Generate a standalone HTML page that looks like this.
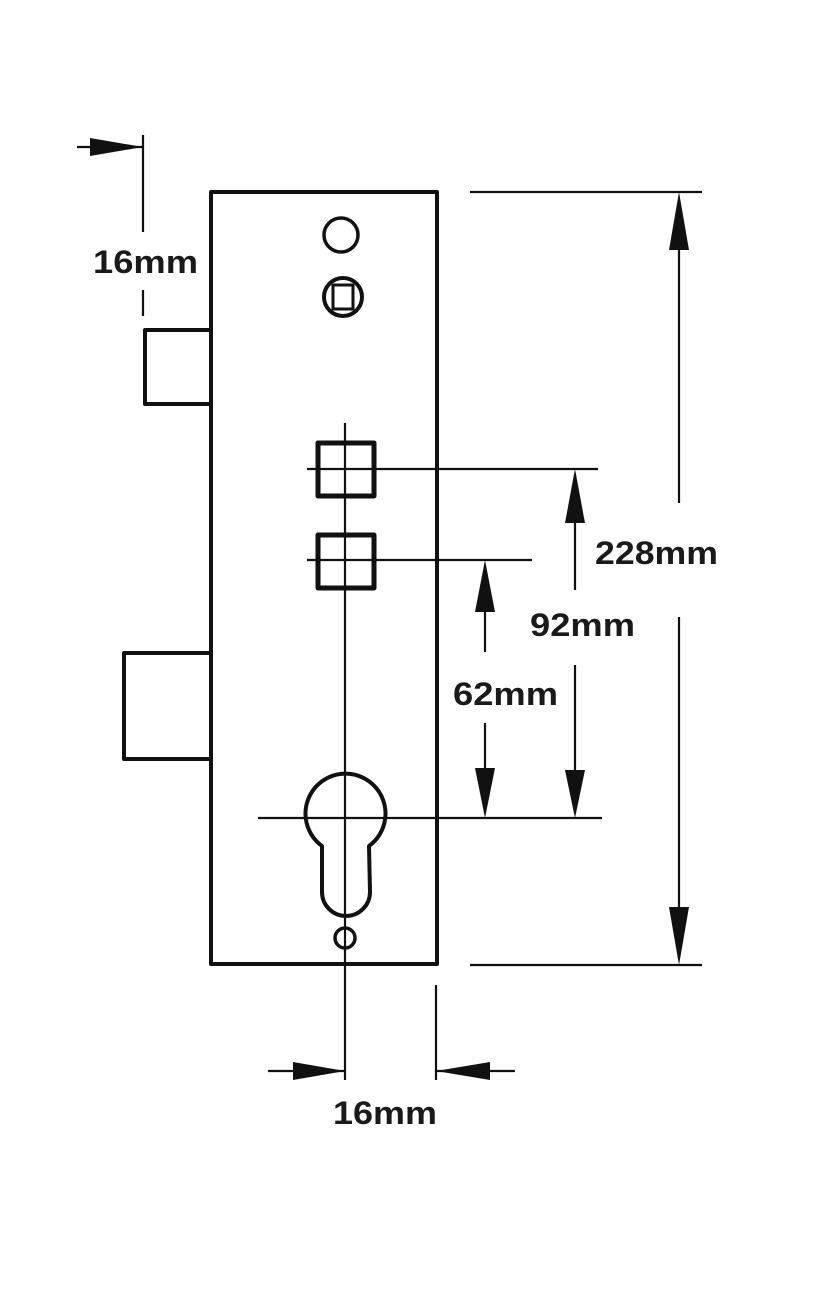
<!DOCTYPE html>
<html><head><style>html,body{margin:0;padding:0;background:#fff;}svg{display:block}</style></head>
<body>
<svg width="814" height="1295" viewBox="0 0 814 1295" xmlns="http://www.w3.org/2000/svg">
<g fill="none" stroke="#111" stroke-linejoin="round">
<rect x="211" y="192" width="226" height="772" stroke-width="4"/>
<path d="M210 330 H145 V404 H210" stroke-width="4"/>
<path d="M210 653 H124 V759 H210" stroke-width="4"/>
<circle cx="341" cy="235" r="17" stroke-width="3.5"/>
<circle cx="343" cy="297" r="19" stroke-width="4"/>
<rect x="333" y="285" width="20" height="24" stroke-width="3"/>
<rect x="318" y="443" width="56" height="53" stroke-width="5"/>
<rect x="318" y="535" width="56" height="53" stroke-width="5"/>
<path d="M322 846 A40 40 0 1 1 369 846 L370 892 A24 24 0 0 1 322 892 Z" stroke-width="4"/>
<circle cx="345" cy="938" r="10" stroke-width="3.5"/>
</g>
<g stroke="#111" stroke-width="2.2" fill="none">
<line x1="345" y1="423" x2="345" y2="1080"/>
<line x1="307" y1="469" x2="598" y2="469"/>
<line x1="307" y1="560" x2="532" y2="560"/>
<line x1="258" y1="818" x2="602" y2="818"/>
<line x1="470" y1="192" x2="702" y2="192"/>
<line x1="470" y1="965" x2="702" y2="965"/>
<line x1="679" y1="200" x2="679" y2="503"/>
<line x1="679" y1="617" x2="679" y2="958"/>
<line x1="575" y1="475" x2="575" y2="590"/>
<line x1="575" y1="665" x2="575" y2="812"/>
<line x1="485" y1="566" x2="485" y2="652"/>
<line x1="485" y1="723" x2="485" y2="812"/>
<line x1="77" y1="147" x2="143" y2="147"/>
<line x1="143" y1="135" x2="143" y2="232"/>
<line x1="143" y1="290" x2="143" y2="316"/>
<line x1="436" y1="985" x2="436" y2="1080"/>
<line x1="268" y1="1071" x2="345" y2="1071"/>
<line x1="436" y1="1071" x2="515" y2="1071"/>
</g>
<g fill="#111">
<polygon points="679,192 669,250 689,250"/>
<polygon points="679,965 669,907 689,907"/>
<polygon points="575,469 565,523 585,523"/>
<polygon points="575,818 565,770 585,770"/>
<polygon points="485,560 475,612 495,612"/>
<polygon points="485,818 475,768 495,768"/>
<polygon points="143,147 90,138 90,156"/>
<polygon points="345,1071 293,1062 293,1080"/>
<polygon points="436,1071 490,1062 490,1080"/>
</g>
<g font-family="Liberation Sans, sans-serif" font-weight="bold" font-size="32" fill="#1a1a1a">
<text x="93" y="273" textLength="105" lengthAdjust="spacingAndGlyphs">16mm</text>
<text x="595" y="564" textLength="123" lengthAdjust="spacingAndGlyphs">228mm</text>
<text x="530" y="636" textLength="105" lengthAdjust="spacingAndGlyphs">92mm</text>
<text x="453" y="705" textLength="105" lengthAdjust="spacingAndGlyphs">62mm</text>
<text x="333" y="1124" textLength="104" lengthAdjust="spacingAndGlyphs">16mm</text>
</g>
</svg>
</body></html>
